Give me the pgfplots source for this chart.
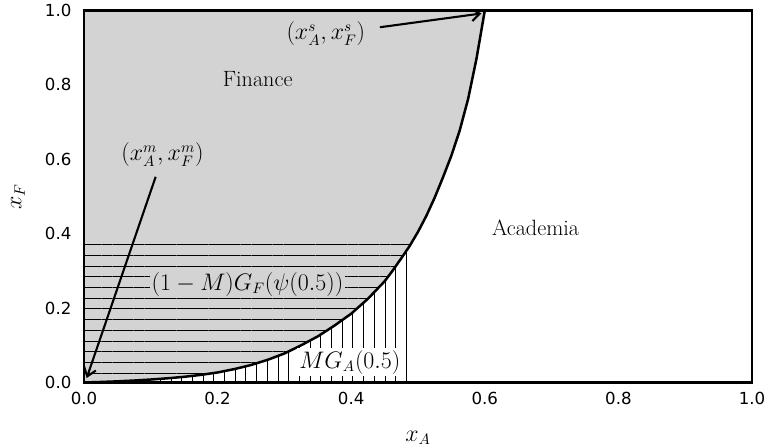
\documentclass[border=0pt]{standalone}
\usepackage{fontspec}
\usepackage{pgfplots}
\pgfplotsset{compat=1.18}
\usetikzlibrary{patterns.meta,arrows.meta}
\newfontfamily\dejavu{DejaVu Sans}
\definecolor{lgray}{HTML}{D3D3D3}
\begin{document}
\begin{tikzpicture}
\begin{axis}[
  name=ax,
  scale only axis, width=480.96bp, height=267.84bp,
  xmin=0, xmax=1, ymin=0, ymax=1,
  axis on top,
  axis line style={line width=1.6bp},
  xtick={0,0.2,0.4,0.6,0.8,1.0}, xticklabels={0.0,0.2,0.4,0.6,0.8,1.0},
  ytick={0,0.2,0.4,0.6,0.8,1.0}, yticklabels={0.0,0.2,0.4,0.6,0.8,1.0},
  major tick length=0pt,
  tick label style={font=\dejavu\fontsize{12}{14}\selectfont, inner sep=0pt},
  xticklabel style={yshift=-6.8bp},
  yticklabel style={xshift=-8.9bp},
  xlabel={$x_A$}, ylabel={$x_F$},
  label style={font=\fontsize{16}{19}\selectfont},
  xlabel style={at={(axis description cs:0.5,-0.149)}, anchor=center},
  ylabel style={at={(axis description cs:-0.0988,0.5)}, anchor=center},
]
% shaded finance region
\addplot[fill=lgray, draw=none] coordinates {
(0,0) (0.025,0.0014) (0.05,0.0031) (0.075,0.0053) (0.1,0.0080) (0.125,0.0113)
(0.15,0.0153) (0.175,0.0205) (0.2,0.027) (0.225,0.036) (0.25,0.047) (0.275,0.061)
(0.3,0.078) (0.325,0.100) (0.35,0.124) (0.375,0.153) (0.4,0.185) (0.425,0.225)
(0.45,0.272) (0.4625,0.302) (0.475,0.334) (0.4875,0.367) (0.5,0.405) (0.5125,0.448)
(0.525,0.497) (0.5375,0.552) (0.55,0.610) (0.5625,0.678) (0.575,0.762) (0.5875,0.870)
(0.6,1.0) (0,1.0)};
% horizontal hatching
\addplot[draw=none, pattern={Lines[angle=0,distance=7.7bp,line width=0.7bp]}, pattern color=black] coordinates {
(0,0) (0.025,0.0014) (0.05,0.0031) (0.075,0.0053) (0.1,0.0080) (0.125,0.0113)
(0.15,0.0153) (0.175,0.0205) (0.2,0.027) (0.225,0.036) (0.25,0.047) (0.275,0.061)
(0.3,0.078) (0.325,0.100) (0.35,0.124) (0.375,0.153) (0.4,0.185) (0.425,0.225)
(0.45,0.272) (0.4625,0.302) (0.475,0.334) (0.4875,0.367) (0.4913,0.38) (0,0.38)};
% vertical hatching
\addplot[draw=none, pattern={Lines[angle=90,distance=7.7bp,line width=0.7bp]}, pattern color=black] coordinates {
(0,0) (0.025,0.0014) (0.05,0.0031) (0.075,0.0053) (0.1,0.0080) (0.125,0.0113)
(0.15,0.0153) (0.175,0.0205) (0.2,0.027) (0.225,0.036) (0.25,0.047) (0.275,0.061)
(0.3,0.078) (0.325,0.100) (0.35,0.124) (0.375,0.153) (0.4,0.185) (0.425,0.225)
(0.45,0.272) (0.4625,0.302) (0.475,0.334) (0.4875,0.367) (0.488,0.3685) (0.488,0)};
% boundary curve
\addplot[black, line width=1.8bp] coordinates {
(0,0) (0.025,0.0014) (0.05,0.0031) (0.075,0.0053) (0.1,0.0080) (0.125,0.0113)
(0.15,0.0153) (0.175,0.0205) (0.2,0.027) (0.225,0.036) (0.25,0.047) (0.275,0.061)
(0.3,0.078) (0.325,0.100) (0.35,0.124) (0.375,0.153) (0.4,0.185) (0.425,0.225)
(0.45,0.272) (0.4625,0.302) (0.475,0.334) (0.4875,0.367) (0.5,0.405) (0.5125,0.448)
(0.525,0.497) (0.5375,0.552) (0.55,0.610) (0.5625,0.678) (0.575,0.762) (0.5875,0.870)
(0.6,1.0)};
% annotations
\node[font=\fontsize{16}{19}\selectfont] at (axis cs:0.26,0.817) {Finance};
\node[font=\fontsize{16}{19}\selectfont] at (axis cs:0.676,0.415) {Academia};
\node[font=\fontsize{16}{19}\selectfont] at (axis cs:0.362,0.937) {$(x^s_A,x^s_F)$};
\draw[line width=1.5bp, -{Straight Barb[length=6bp,width=9bp]}] (axis cs:0.443,0.955) -- (axis cs:0.595,0.992);
\node[font=\fontsize{16}{19}\selectfont] at (axis cs:0.1175,0.6116) {$(x^m_A,x^m_F)$};
\draw[line width=1.5bp, -{Straight Barb[length=6bp,width=9bp]}] (axis cs:0.1073,0.553) -- (axis cs:0.004,0.012);
\node[font=\fontsize{16}{19}\selectfont, fill=lgray, inner sep=1.5bp] at (axis cs:0.2447,0.264) {$(1-M)G_F(\psi(0.5))$};
\node[font=\fontsize{16}{19}\selectfont, fill=white, inner sep=1.5bp] at (axis cs:0.398,0.054) {$MG_A(0.5)$};
\end{axis}
\pgfresetboundingbox
\path (ax.south west) ++(-60.48bp,-47.16bp) rectangle ++(553.68bp,322.56bp);
\end{tikzpicture}
\end{document}
